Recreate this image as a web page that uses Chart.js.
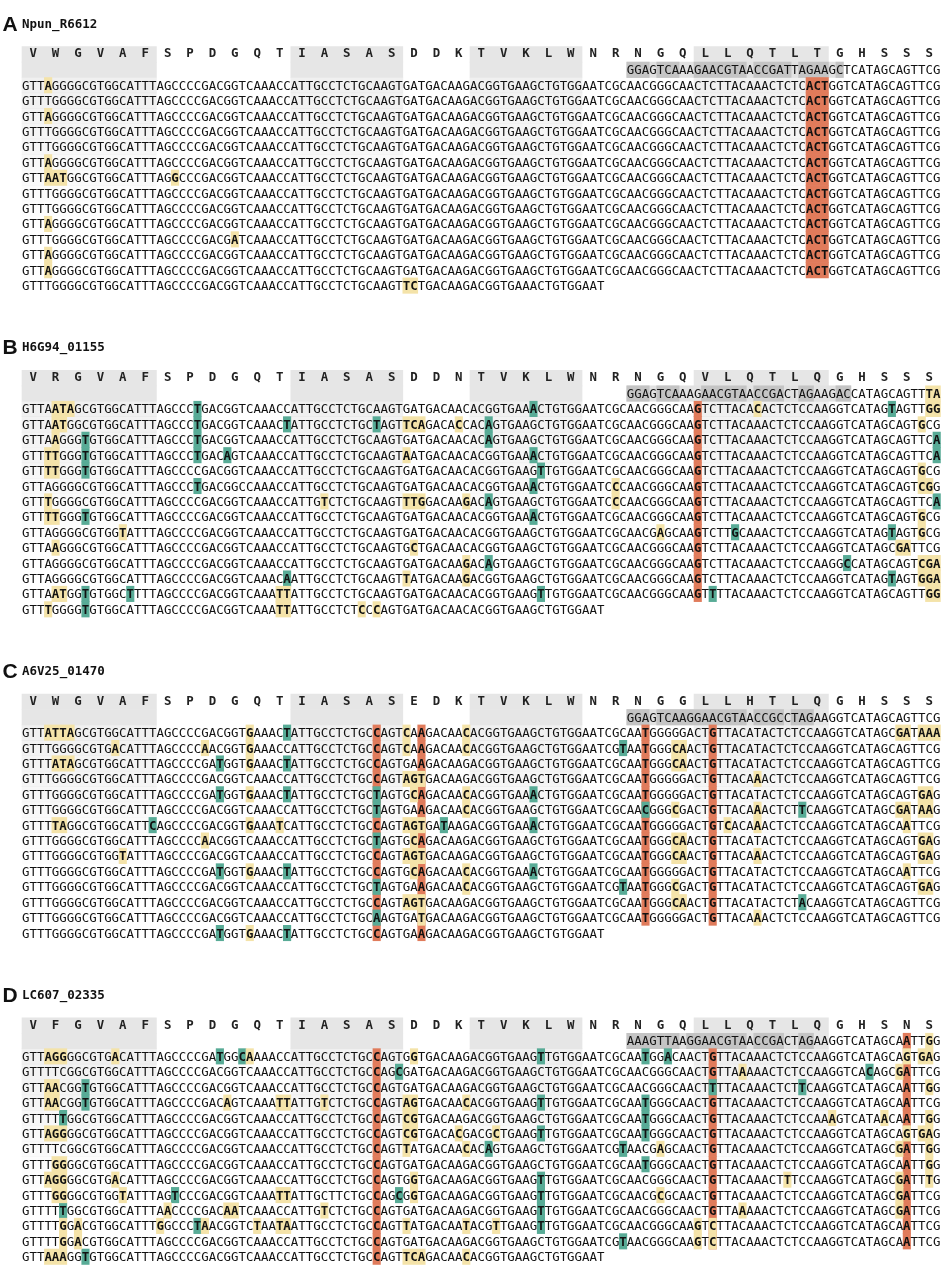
<!DOCTYPE html>
<html lang="en">
<head>
<meta charset="UTF-8">
<title>Target site alignments</title>
<script src="https://cdn.jsdelivr.net/npm/chart.js"></script>
<style>
    html, body {
        margin: 0;
        padding: 0;
        background: #fff;
        overflow: hidden;
    }
    .figure {
        position: relative;
        width: 941px;
        height: 1285px;
    }
</style>
</head>
<body>
<div class="figure">
    <canvas id="alignChart"></canvas>
</div>

<script>
// ---- data ----
const panelLetters = ['A', 'B', 'C', 'D'];
const geneNames = ['Npun_R6612', 'H6G94_01155', 'A6V25_01470', 'LC607_02335'];

const aminoAcids = [
    'VWGVAFSPDGQTIASASDDKTVKLWNRNGQLLQTLTGHSSS',
    'VRGVAFSPDGQTIASASDDNTVKLWNRNGQVLQTLQGHSSS',
    'VWGVAFSPDGQTIASASEDKTVKLWNRNGGLLHTLQGHSSS',
    'VFGVAFSPDGQTIASASDDKTVKLWNRNGQLLQTLQGHSNS'
];

// guide row, starts at alignment column 81
const guideStart = 81;
const guideSeqs = [
    'GGAGTCAAAGAACGTAACCGATTAGAAGCTCATAGCAGTTCG',
    'GGAGTCAAAGAACGTAACCGACTAGAAGACCATAGCAGTTTA',
    'GGAGTCAAGGAACGTAACCGCCTAGAAGGTCATAGCAGTTCG',
    'AAAGTTAAGGAACGTAACCGACTAGAAGGTCATAGCAATTGG'
];
const guideBoxes = [
    [[81, 83], [85, 87], [90, 96], [98, 102], [104, 107], [109, 109]],
    [[81, 83], [85, 87], [91, 96], [98, 101], [104, 105], [109, 110]],
    [[81, 83], [85, 96], [98, 101], [103, 105]],
    [[81, 87], [89, 96], [98, 101], [104, 105]]
];
const guideMarks = ['', 'y121-122', '', 'y121'];

// codon groups shaded in the header (codon index ranges)
const shadedCodons = [[0, 5], [12, 16], [20, 24], [30, 35]];

// whole-column site marks: [firstCol, lastCol, firstRow, lastRow]
const siteColumns = [
    [[105, 107, 0, 12]],
    [[90, 90, 0, 12]],
    [[47, 47, 0, 13], [53, 53, 0, 13], [83, 83, 0, 12], [92, 92, 0, 12]],
    [[47, 47, 0, 13], [92, 92, 0, 12], [118, 118, -1, 12]]
];

// sequences (codons separated by spaces); marks: y = yellow, t = teal
const seqsA = [
    'GTT AGG GGC GTG GCA TTT AGC CCC GAC GGT CAA ACC ATT GCC TCT GCA AGT GAT GAC AAG ACG GTG AAG CTG TGG AAT CGC AAC GGG CAA CTC TTA CAA ACT CTC ACT GGT CAT AGC AGT TCG',
    'GTT TGG GGC GTG GCA TTT AGC CCC GAC GGT CAA ACC ATT GCC TCT GCA AGT GAT GAC AAG ACG GTG AAG CTG TGG AAT CGC AAC GGG CAA CTC TTA CAA ACT CTC ACT GGT CAT AGC AGT TCG',
    'GTT AGG GGC GTG GCA TTT AGC CCC GAC GGT CAA ACC ATT GCC TCT GCA AGT GAT GAC AAG ACG GTG AAG CTG TGG AAT CGC AAC GGG CAA CTC TTA CAA ACT CTC ACT GGT CAT AGC AGT TCG',
    'GTT TGG GGC GTG GCA TTT AGC CCC GAC GGT CAA ACC ATT GCC TCT GCA AGT GAT GAC AAG ACG GTG AAG CTG TGG AAT CGC AAC GGG CAA CTC TTA CAA ACT CTC ACT GGT CAT AGC AGT TCG',
    'GTT TGG GGC GTG GCA TTT AGC CCC GAC GGT CAA ACC ATT GCC TCT GCA AGT GAT GAC AAG ACG GTG AAG CTG TGG AAT CGC AAC GGG CAA CTC TTA CAA ACT CTC ACT GGT CAT AGC AGT TCG',
    'GTT AGG GGC GTG GCA TTT AGC CCC GAC GGT CAA ACC ATT GCC TCT GCA AGT GAT GAC AAG ACG GTG AAG CTG TGG AAT CGC AAC GGG CAA CTC TTA CAA ACT CTC ACT GGT CAT AGC AGT TCG',
    'GTT AAT GGC GTG GCA TTT AGG CCC GAC GGT CAA ACC ATT GCC TCT GCA AGT GAT GAC AAG ACG GTG AAG CTG TGG AAT CGC AAC GGG CAA CTC TTA CAA ACT CTC ACT GGT CAT AGC AGT TCG',
    'GTT TGG GGC GTG GCA TTT AGC CCC GAC GGT CAA ACC ATT GCC TCT GCA AGT GAT GAC AAG ACG GTG AAG CTG TGG AAT CGC AAC GGG CAA CTC TTA CAA ACT CTC ACT GGT CAT AGC AGT TCG',
    'GTT TGG GGC GTG GCA TTT AGC CCC GAC GGT CAA ACC ATT GCC TCT GCA AGT GAT GAC AAG ACG GTG AAG CTG TGG AAT CGC AAC GGG CAA CTC TTA CAA ACT CTC ACT GGT CAT AGC AGT TCG',
    'GTT AGG GGC GTG GCA TTT AGC CCC GAC GGT CAA ACC ATT GCC TCT GCA AGT GAT GAC AAG ACG GTG AAG CTG TGG AAT CGC AAC GGG CAA CTC TTA CAA ACT CTC ACT GGT CAT AGC AGT TCG',
    'GTT TGG GGC GTG GCA TTT AGC CCC GAC GAT CAA ACC ATT GCC TCT GCA AGT GAT GAC AAG ACG GTG AAG CTG TGG AAT CGC AAC GGG CAA CTC TTA CAA ACT CTC ACT GGT CAT AGC AGT TCG',
    'GTT AGG GGC GTG GCA TTT AGC CCC GAC GGT CAA ACC ATT GCC TCT GCA AGT GAT GAC AAG ACG GTG AAG CTG TGG AAT CGC AAC GGG CAA CTC TTA CAA ACT CTC ACT GGT CAT AGC AGT TCG',
    'GTT AGG GGC GTG GCA TTT AGC CCC GAC GGT CAA ACC ATT GCC TCT GCA AGT GAT GAC AAG ACG GTG AAG CTG TGG AAT CGC AAC GGG CAA CTC TTA CAA ACT CTC ACT GGT CAT AGC AGT TCG',
    'GTT TGG GGC GTG GCA TTT AGC CCC GAC GGT CAA ACC ATT GCC TCT GCA AGT TCT GAC AAG ACG GTG AAA CTG TGG AAT'
];
const marksA = ['y3', '', 'y3', '', '', 'y3', 'y3-5 y20', '', '', 'y3', 'y28', 'y3', 'y3', 'y51-52'];

const seqsB = [
    'GTT AAT AGC GTG GCA TTT AGC CCT GAC GGT CAA ACC ATT GCC TCT GCA AGT GAT GAC AAC ACG GTG AAA CTG TGG AAT CGC AAC GGG CAA GTC TTA CAC ACT CTC CAA GGT CAT AGT AGT TGG',
    'GTT AAT GGC GTG GCA TTT AGC CCT GAC GGT CAA ACT ATT GCC TCT GCT AGT TCA GAC ACC ACA GTG AAG CTG TGG AAT CGC AAC GGG CAA GTC TTA CAA ACT CTC CAA GGT CAT AGC AGT GCG',
    'GTT AAG GGT GTG GCA TTT AGC CCT GAC GGT CAA ACC ATT GCC TCT GCA AGT GAT GAC AAC ACA GTG AAG CTG TGG AAT CGC AAC GGG CAA GTC TTA CAA ACT CTC CAA GGT CAT AGC AGT TCA',
    'GTT TTG GGT GTG GCA TTT AGC CCT GAC AGT CAA ACC ATT GCC TCT GCA AGT AAT GAC AAC ACG GTG AAA CTG TGG AAT CGC AAC GGG CAA GTC TTA CAA ACT CTC CAA GGT CAT AGC AGT TCA',
    'GTT TTG GGT GTG GCA TTT AGC CCC GAC GGT CAA ACC ATT GCC TCT GCA AGT GAT GAC AAC ACG GTG AAG TTG TGG AAT CGC AAC GGG CAA GTC TTA CAA ACT CTC CAA GGT CAT AGC AGT GCG',
    'GTT AGG GGC GTG GCA TTT AGC CCT GAC GGC CAA ACC ATT GCC TCT GCA AGT GAT GAC AAC ACG GTG AAA CTG TGG AAT CCC AAC GGG CAA GTC TTA CAA ACT CTC CAA GGT CAT AGC AGT CGG',
    'GTT TGG GGC GTG GCA TTT AGC CCC GAC GGT CAA ACC ATT GTC TCT GCA AGT TTG GAC AAG ACA GTG AAG CTG TGG AAT CCC AAC GGG CAA GTC TTA CAA ACT CTC CAA GGT CAT AGC AGT TCA',
    'GTT TTG GGT GTG GCA TTT AGC CCC GAC GGT CAA ACC ATT GCC TCT GCA AGT GAT GAC AAC ACG GTG AAA CTG TGG AAT CGC AAC GGG CAA GTC TTA CAA ACT CTC CAA GGT CAT AGC AGT GCG',
    'GTT AGG GGC GTG GTA TTT AGC CCC GAC GGT CAA ACC ATT GCC TCT GCA AGT GAT GAC AAC ACG GTG AAG CTG TGG AAT CGC AAC GAG CAA GTC TTG CAA ACT CTC CAA GGT CAT AGT AGT GCG',
    'GTT AAG GGC GTG GCA TTT AGC CCC GAC GGT CAA ACC ATT GCC TCT GCA AGT GCT GAC AAC ACG GTG AAG CTG TGG AAT CGC AAC GGG CAA GTC TTA CAA ACT CTC CAA GGT CAT AGC GAT TCG',
    'GTT AGG GGC GTG GCA TTT AGC CCC GAC GGT CAA ACC ATT GCC TCT GCA AGT GAT GAC AAG ACA GTG AAG CTG TGG AAT CGC AAC GGG CAA GTC TTA CAA ACT CTC CAA GGC CAT AGC AGT CGA',
    'GTT AGG GGC GTG GCA TTT AGC CCC GAC GGT CAA ACA ATT GCC TCT GCA AGT TAT GAC AAG ACG GTG AAG CTG TGG AAT CGC AAC GGG CAA GTC TTA CAA ACT CTC CAA GGT CAT AGT AGT GGA',
    'GTT AAT GGT GTG GCT TTT AGC CCC GAC GGT CAA ATT ATT GCC TCT GCA AGT GAT GAC AAC ACG GTG AAG TTG TGG AAT CGC AAC GGG CAA GTT TTA CAA ACT CTC CAA GGT CAT AGC AGT TGG',
    'GTT TGG GGT GTG GCA TTT AGC CCC GAC GGT CAA ATT ATT GCC TCT CCC AGT GAT GAC AAC ACG GTG AAG CTG TGG AAT'
];
const marksB = [
    'y4-6 t23 t68 y98 t116 y121-122',
    'y4-5 t23 t35 t47 y51-53 y58 t62 y120',
    'y4 t8 t23 t62 t122',
    'y3-4 t8 t23 t27 y51 t68 t122',
    'y3-4 t8 t69 y120',
    't23 t68 y79 y120-121',
    'y3 y40 y51-53 y59 t62 y79 t122',
    'y3-4 t8 t68 y120',
    'y13 y85 t95 t116 y120',
    'y4 y52 y117-118',
    'y59 t62 t110 y120-122',
    't35 y51 y59 t116 y120-122',
    'y4-5 t8 t14 y34-35 t69 t92 y121-122',
    'y3 t8 y34-35 y45 y47'
];

const seqsC = [
    'GTT ATT AGC GTG GCA TTT AGC CCC GAC GGT GAA ACT ATT GCC TCT GCC AGT CAA GAC AAC ACG GTG AAG CTG TGG AAT CGC AAT GGG GGA CTG TTA CAT ACT CTC CAA GGT CAT AGC GAT AAA',
    'GTT TGG GGC GTG ACA TTT AGC CCC AAC GGT GAA ACC ATT GCC TCT GCC AGT CAA GAC AAC ACG GTG AAG CTG TGG AAT CGT AAT GGG CAA CTG TTA CAT ACT CTC CAA GGT CAT AGC AGT TCG',
    'GTT TAT AGC GTG GCA TTT AGC CCC GAT GGT GAA ACT ATT GCC TCT GCC AGT GAA GAC AAG ACG GTG AAG CTG TGG AAT CGC AAT GGG CAA CTG TTA CAT ACT CTC CAA GGT CAT AGC AGT TCG',
    'GTT TGG GGC GTG GCA TTT AGC CCC GAC GGT CAA ACC ATT GCC TCT GCC AGT AGT GAC AAG ACG GTG AAG CTG TGG AAT CGC AAT GGG GGA CTG TTA CAA ACT CTC CAA GGT CAT AGC AGT TCG',
    'GTT TGG GGC GTG GCA TTT AGC CCC GAT GGT GAA ACT ATT GCC TCT GCT AGT GCA GAC AAC ACG GTG AAA CTG TGG AAT CGC AAT GGG GGA CTG TTA CAT ACT CTC CAA GGT CAT AGC AGT GAG',
    'GTT TGG GGC GTG GCA TTT AGC CCC GAC GGT CAA ACC ATT GCC TCT GCT AGT GAA GAC AAC ACG GTG AAG CTG TGG AAT CGC AAC GGG CGA CTG TTA CAA ACT CTT CAA GGT CAT AGC GAT AAG',
    'GTT TTA GGC GTG GCA TTC AGC CCC GAC GGT GAA ATC ATT GCC TCT GCC AGT AGT GAT AAG ACG GTG AAA CTG TGG AAT CGC AAT GGG GGA CTG TCA CAA ACT CTC CAA GGT CAT AGC AAT TCG',
    'GTT TGG GGC GTG GCA TTT AGC CCC AAC GGT CAA ACC ATT GCC TCT GCT AGT GCA GAC AAG ACG GTG AAG CTG TGG AAT CGC AAT GGG CAA CTG TTA CAT ACT CTC CAA GGT CAT AGC AGT GAG',
    'GTT TGG GGC GTG GTA TTT AGC CCC GAC GGT CAA ACC ATT GCC TCT GCC AGT AGT GAC AAG ACG GTG AAG CTG TGG AAT CGC AAT GGG CAA CTG TTA CAA ACT CTC CAA GGT CAT AGC AGT GAG',
    'GTT TGG GGC GTG GCA TTT AGC CCC GAT GGT GAA ACT ATT GCC TCT GCC AGT GCA GAC AAC ACG GTG AAA CTG TGG AAT CGC AAT GGG GGA CTG TTA CAT ACT CTC CAA GGT CAT AGC AAT TCG',
    'GTT TGG GGC GTG GCA TTT AGC CCC GAC GGT CAA ACC ATT GCC TCT GCT AGT GAA GAC AAC ACG GTG AAG CTG TGG AAT CGT AAT GGG CGA CTG TTA CAT ACT CTC CAA GGT CAT AGC AGT GAG',
    'GTT TGG GGC GTG GCA TTT AGC CCC GAC GGT CAA ACC ATT GCC TCT GCC AGT AGT GAC AAG ACG GTG AAG CTG TGG AAT CGC AAT GGG CAA CTG TTA CAT ACT CTA CAA GGT CAT AGC AGT TCG',
    'GTT TGG GGC GTG GCA TTT AGC CCC GAC GGT CAA ACC ATT GCC TCT GCA AGT GAT GAC AAG ACG GTG AAG CTG TGG AAT CGC AAT GGG GGA CTG TTA CAA ACT CTC CAA GGT CAT AGC AGT TCG',
    'GTT TGG GGC GTG GCA TTT AGC CCC GAT GGT GAA ACT ATT GCC TCT GCC AGT GAA GAC AAG ACG GTG AAG CTG TGG AAT'
];
const marksC = [
    'y3-6 y30 t35 y51 y59 y117-118 y120-122',
    'y12 y24 y30 y51 y59 t80 y87-88',
    'y4-6 t26 y30 t35 y87-88',
    'y51-53 y98',
    't26 y30 t35 t47 y52 y59 t68 y120-121',
    't47 y59 t83 y87 y98 t104 y117-118 y120-121',
    'y4-5 t17 y30 y34 y51-53 t56 t68 y94 y98 y118',
    'y24 t47 y52 y87-88 y120-121',
    'y13 y51-53 y87-88 y98 y120-121',
    't26 y30 t35 y52 y59 t68 y118',
    't47 y59 t80 y87 y120-121',
    'y51-53 y87-88 t104',
    't47 y53 y98',
    't26 y30 t35'
];

const seqsD = [
    'GTT AGG GGC GTG ACA TTT AGC CCC GAT GGC AAA ACC ATT GCC TCT GCC AGT GGT GAC AAG ACG GTG AAG TTG TGG AAT CGC AAT GGA CAA CTG TTA CAA ACT CTC CAA GGT CAT AGC AGT GAG',
    'GTT TTC GGC GTG GCA TTT AGC CCC GAC GGT CAA ACC ATT GCC TCT GCC AGC GAT GAC AAG ACG GTG AAG CTG TGG AAT CGC AAC GGG CAA CTG TTA AAA ACT CTC CAA GGT CAC AGC GAT TCG',
    'GTT AAC GGT GTG GCA TTT AGC CCC GAC GGT CAA ACC ATT GCC TCT GCC AGT GAT GAC AAG ACG GTG AAG CTG TGG AAT CGC AAC GGG CAA CTT TTA CAA ACT CTT CAA GGT CAT AGC AAT TGG',
    'GTT AAC GGT GTG GCA TTT AGC CCC GAC AGT CAA ATT ATT GTC TCT GCC AGT AGT GAC AAC ACG GTG AAG TTG TGG AAT CGC AAT GGG CAA CTG TTA CAA ACT CTC CAA GGT CAT AGC AAT TCG',
    'GTT TTT GGC GTG GCA TTT AGC CCC GAC GGT CAA ACC ATT GCC TCT GCC AGT CGT GAC AAG ACG GTG AAG CTG TGG AAT CGC AAT GGG CAA CTG TTA CAA ACT CTC CAA AGT CAT AAC AAT TGG',
    'GTT AGG GGC GTG GCA TTT AGC CCC GAC GGT CAA ACC ATT GCC TCT GCC AGT CGT GAC ACG ACG CTG AAG TTG TGG AAT CGC AAT GGG CAA CTG TTA CAA ACT CTC CAA GGT CAT AGC AGT GAG',
    'GTT TTC GGC GTG GCA TTT AGC CCC GAC GGT CAA ACC ATT GCC TCT GCC AGT TAT GAC AAC ACA GTG AAG CTG TGG AAT CGT AAC GAG CAA CTG TTA CAA ACT CTC CAA GGT CAT AGC GAT TGG',
    'GTT TGG GGC GTG GCA TTT AGC CCC GAC GGT CAA ACC ATT GCC TCT GCC AGT GAT GAC AAG ACG GTG AAG CTG TGG AAT CGC AAT GGG CAA CTG TTA CAA ACT CTC CAA GGT CAT AGC AAT TGG',
    'GTT AGG GGC GTG ACA TTT AGC CCC GAC GGT CAA ACC ATT GCC TCT GCC AGT GGT GAC AAG ACG GTG AAG TTG TGG AAT CGC AAC GGG CAA CTG TTA CAA ACT TTC CAA GGT CAT AGC GAT TTG',
    'GTT TGG GGC GTG GTA TTT AGT CCC GAC GGT CAA ATT ATT GCT TCT GCC AGC GGT GAC AAG ACG GTG AAG TTG TGG AAT CGC AAC GCG CAA CTG TTA CAA ACT CTC CAA GGT CAT AGC GAT TCG',
    'GTT TTT GGC GTG GCA TTT AAC CCC GAC AAT CAA ACC ATT GTC TCT GCC AGT GAT GAC AAG ACG GTG AAG TTG TGG AAT CGC AAC GGG CAA CTG TTA AAA ACT CTC CAA GGT CAT AGC GAT TCG',
    'GTT TTG GAC GTG GCA TTT GGC CCT AAC GGT CTA ATA ATT GCC TCT GCC AGT TAT GAC AAT ACG TTG AAG TTG TGG AAT CGC AAC GGG CAA GTC TTA CAA ACT CTC CAA GGT CAT AGC AAT TCG',
    'GTT TTG GAC GTG GCA TTT AGC CCC GAC GGT CAA ACC ATT GCC TCT GCC AGT GAT GAC AAG ACG GTG AAG CTG TGG AAT CGT AAC GGG CAA GTC TTA CAA ACT CTC CAA GGT CAT AGC AAT TCG',
    'GTT AAA GGT GTG GCA TTT AGC CCC GAC GGT CAA ACC ATT GCC TCT GCC AGT TCA GAC AAC ACG GTG AAG CTG TGG AAT'
];
const marksD = [
    'y3-5 y12 t26 t29 y30 y52 t69 t83 t86 y118 y120-121',
    't50 y96 t113 y117',
    'y3-4 t8 t92 t104 y121',
    'y3-4 t8 y27 y34-35 y40 y51-52 y59 t69 t83',
    't5 y51-52 t83 y108 y115 y121',
    'y3-5 y51-52 y58 y63 t69 t83 y118 y120-121',
    'y51 y59 t62 t80 y85 y117 y121',
    'y4-5 t83 y121',
    'y3-5 y12 y52 t69 y102 y117 y121',
    'y4-5 y13 t20 y34-35 t50 y52 t69 y85 y117',
    't5 y19 y27-28 y40 t69 y96 y117',
    'y5 y7 y18 t23 y24 y31 y34-35 y51 y59 y63 t69 y90 y92',
    'y5 y7 t80 y90 y92',
    'y3-5 t8 y51-53 y59'
];

// ---- layout ----
const FIG_W = 941, FIG_H = 1285;
const COL_PX = 7.467;     // width of one base
const LEFT_PX = 22;       // left edge of column 0
const ROW_PX = 15.8;      // line pitch
const TOP_PX = 71.3;      // centre of first sequence line of panel A
const PANEL_ROWS = 21;    // lines from one panel to the next
const BAND_FADE = 9;      // codon shading fades out over this many lines
const SEQ_FONT = '"DejaVu Sans Mono", monospace';

const panels = [
    {seqs: seqsA, marks: marksA},
    {seqs: seqsB, marks: marksB},
    {seqs: seqsC, marks: marksC},
    {seqs: seqsD, marks: marksD}
].map(p => ({seqs: p.seqs.map(s => s.replace(/\s/g, '')), marks: p.marks}));

// "y3-5 t23" -> [{type:'y', from:3, to:5}, {type:'t', from:23, to:23}]
const parseMarks = (code) => code.split(/\s+/).filter(Boolean).map(tok => {
    const [a, b] = tok.slice(1).split('-').map(Number);
    return {type: tok[0], from: a, to: b === undefined ? a : b};
});

const lineValue = (p, r) => p * PANEL_ROWS + r;

// ---- bar data built from the arrays above ----
const yellowCells = [], tealCells = [], siteCells = [];
const boxCells = [], guideCells = [], headerBand = [], bodyBand = [];
const boldCells = new Set();

panels.forEach((pn, p) => {
    const rowMarks = pn.marks.map((m, r) => [r, m]).concat([[-1, guideMarks[p]]]);
    rowMarks.forEach(([r, code]) => {
        parseMarks(code).forEach(m => {
            const cell = {x: [m.from, m.to + 1], y: lineValue(p, r)};
            (m.type === 'y' ? yellowCells : tealCells).push(cell);
            for (let c = m.from; c <= m.to; c++) boldCells.add(p + ':' + r + ':' + c);
        });
    });
    siteColumns[p].forEach(([c0, c1, r0, r1]) => {
        for (let r = r0; r <= r1; r++) {
            siteCells.push({x: [c0, c1 + 1], y: lineValue(p, r)});
            for (let c = c0; c <= c1; c++) boldCells.add(p + ':' + r + ':' + c);
        }
    });
    const boxes = guideBoxes[p];
    guideCells.push({x: [guideStart, boxes[boxes.length - 1][1] + 1], y: lineValue(p, -1)});
    boxes.forEach(([c0, c1]) => boxCells.push({x: [c0, c1 + 1], y: lineValue(p, -1)}));
    shadedCodons.forEach(([k0, k1]) => {
        headerBand.push({x: [k0 * 3, k1 * 3 + 3], y: lineValue(p, -2)});
        headerBand.push({x: [k0 * 3, k1 * 3 + 3], y: lineValue(p, -1)});
        for (let r = 0; r < BAND_FADE; r++) {
            bodyBand.push({x: [k0 * 3, k1 * 3 + 3], y: lineValue(p, r), line: r});
        }
    });
});

const barDefaults = {
    grouped: false,
    categoryPercentage: 1,
    barPercentage: 1,
    borderWidth: 0
};

// codon shading below the header gets lighter line by line
const fadedBand = (ctx) => {
    const line = ctx.raw ? ctx.raw.line : 0;
    const a = 0.5 * (1 - line / BAND_FADE);
    return 'rgba(226, 226, 226, ' + a.toFixed(3) + ')';
};

// ---- text layer: letters, names, codons, guide and bases ----
const textLayer = {
    id: 'textLayer',
    afterDatasetsDraw(chart) {
        const {ctx, scales: {x, y}} = chart;
        ctx.save();
        ctx.textBaseline = 'alphabetic';

        panels.forEach((pn, p) => {
            const titleY = y.getPixelForValue(lineValue(p, -4));

            // panel letter and gene name
            ctx.fillStyle = '#111';
            ctx.textAlign = 'left';
            ctx.font = 'bold 21px "Liberation Sans", Arial, sans-serif';
            ctx.fillText(panelLetters[p], x.getPixelForValue(-2.6), Math.max(titleY + 7, 18));
            ctx.font = 'bold 12.5px ' + SEQ_FONT;
            ctx.fillText(geneNames[p], x.getPixelForValue(0), Math.max(titleY + 4, 11));

            // amino acids, one per codon
            ctx.textAlign = 'center';
            ctx.fillStyle = '#222';
            ctx.font = 'bold 12.4px ' + SEQ_FONT;
            const aaY = y.getPixelForValue(lineValue(p, -2)) + 3;
            [...aminoAcids[p]].forEach((aa, k) => {
                ctx.fillText(aa, x.getPixelForValue(k * 3 + 1.5), aaY);
            });

            // guide row
            ctx.fillStyle = '#111';
            const gY = y.getPixelForValue(lineValue(p, -1)) + 4.5;
            [...guideSeqs[p]].forEach((b, i) => {
                const c = guideStart + i;
                ctx.font = (boldCells.has(p + ':-1:' + c) ? 'bold ' : '') + '12.4px ' + SEQ_FONT;
                ctx.fillText(b, x.getPixelForValue(c + 0.5), gY);
            });

            // aligned sequences
            pn.seqs.forEach((s, r) => {
                const rowY = y.getPixelForValue(lineValue(p, r)) + 4.5;
                [...s].forEach((b, c) => {
                    ctx.font = (boldCells.has(p + ':' + r + ':' + c) ? 'bold ' : '') + '12.4px ' + SEQ_FONT;
                    ctx.fillText(b, x.getPixelForValue(c + 0.5), rowY);
                });
            });
        });
        ctx.restore();
    }
};

new Chart(document.getElementById('alignChart'), {
    type: 'bar',
    data: {
        datasets: [
            {label: 'Non-synonymous', data: yellowCells, backgroundColor: '#f4e3a9', order: 1, ...barDefaults},
            {label: 'Synonymous', data: tealCells, backgroundColor: '#58ab96', order: 1, ...barDefaults},
            {label: 'Target site', data: siteCells, backgroundColor: '#e07b5b', order: 2, ...barDefaults},
            {label: 'Guide box', data: boxCells, backgroundColor: '#c4c4c4', order: 3, ...barDefaults},
            {label: 'Guide', data: guideCells, backgroundColor: '#e2e2e2', order: 4, ...barDefaults},
            {label: 'Codon header', data: headerBand, backgroundColor: '#e6e6e6', order: 5, ...barDefaults},
            {label: 'Codon band', data: bodyBand, backgroundColor: fadedBand, order: 6, ...barDefaults}
        ]
    },
    options: {
        indexAxis: 'y',
        responsive: true,
        maintainAspectRatio: false,
        animation: false,
        events: [],
        layout: {padding: 0},
        plugins: {
            legend: {display: false},
            tooltip: {enabled: false}
        },
        scales: {
            x: {
                type: 'linear',
                display: false,
                min: -LEFT_PX / COL_PX,
                max: (FIG_W - LEFT_PX) / COL_PX
            },
            y: {
                type: 'linear',
                display: false,
                reverse: true,
                min: -TOP_PX / ROW_PX,
                max: (FIG_H - TOP_PX) / ROW_PX,
                ticks: {stepSize: 1, includeBounds: false}
            }
        }
    },
    plugins: [textLayer]
});
</script>
</body>
</html>
